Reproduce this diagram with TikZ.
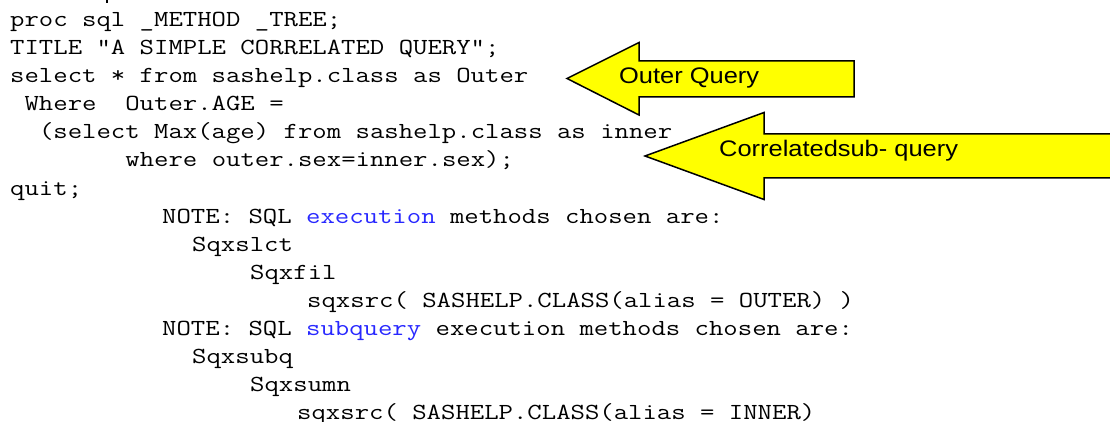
\documentclass[tikz,border=0pt]{standalone}
\usepackage{fontspec}
\usepackage{graphicx}
\newfontfamily\labfont{Liberation Sans}
\definecolor{arrowyellow}{RGB}{255,255,0}
\definecolor{noteblue}{RGB}{40,40,255}
\newcommand{\codew}[1]{\scalebox{1.215}[1]{#1}}
\newcommand{\labw}[1]{\scalebox{1.13}[1]{#1}}
\tikzset{
  codeline/.style={anchor=base west, inner sep=0pt, text=black,
    font=\ttfamily\fontsize{23}{28}\selectfont},
  callout/.style={draw=black, line width=1.5pt, fill=arrowyellow, line join=miter},
  calloutlabel/.style={anchor=base west, inner sep=0pt, text=black,
    font=\labfont\fontsize{22.5}{27}\selectfont},
}
\begin{document}
\begin{tikzpicture}[x=1pt, y=-1pt]
\clip (0,0) rectangle (1110,422);
\fill[white] (0,0) rectangle (1110,422);
% descender of a cut-off line above
\draw[line width=1.3pt] (107,0) -- (107,3.5);
% code lines
\node[codeline] (l0)  at (10,27)    {\codew{proc sql \_METHOD \_TREE;}};
\node[codeline] (l1)  at (10,55)    {\codew{TITLE "A SIMPLE CORRELATED QUERY";}};
\node[codeline] (l2)  at (10,83)    {\codew{select * from sashelp.class as Outer}};
\node[codeline] (l3)  at (24.4,111) {\codew{Where\ \ Outer.AGE =}};
\node[codeline] (l4)  at (38.8,139) {\codew{(select Max(age) from sashelp.class as inner}};
\node[codeline] (l5)  at (125.2,167){\codew{where outer.sex=inner.sex);}};
\node[codeline] (l6)  at (10,195)   {\codew{quit;}};
\node[codeline] (l7)  at (162,223)  {\codew{NOTE: SQL \textcolor{noteblue}{execution} methods chosen are:}};
\node[codeline] (l8)  at (192,251)  {\codew{Sqxslct}};
\node[codeline] (l9)  at (250,279)  {\codew{Sqxfil}};
\node[codeline] (l10) at (307,307)  {\codew{sqxsrc( SASHELP.CLASS(alias = OUTER) )}};
\node[codeline] (l11) at (162,335)  {\codew{NOTE: SQL \textcolor{noteblue}{subquery} execution methods chosen are:}};
\node[codeline] (l12) at (192,363)  {\codew{Sqxsubq}};
\node[codeline] (l13) at (250,391)  {\codew{Sqxsumn}};
\node[codeline] (l14) at (297,419)  {\codew{sqxsrc( SASHELP.CLASS(alias = INNER)}};
% callout arrows
\draw[callout] (567,78.5) -- (639,42.5) -- (639,61) -- (854,61) -- (854,97) -- (639,97) -- (639,115) -- cycle;
\node[calloutlabel] (outerq) at (619,83.3) {\labw{Outer Query}};
\draw[callout] (645,156) -- (764,112.5) -- (764,134) -- (1125,134) -- (1125,178) -- (764,178) -- (764,199.5) -- cycle;
\node[calloutlabel] (corrq) at (719,156.5) {\labw{Correlatedsub- query}};
\end{tikzpicture}
\end{document}
